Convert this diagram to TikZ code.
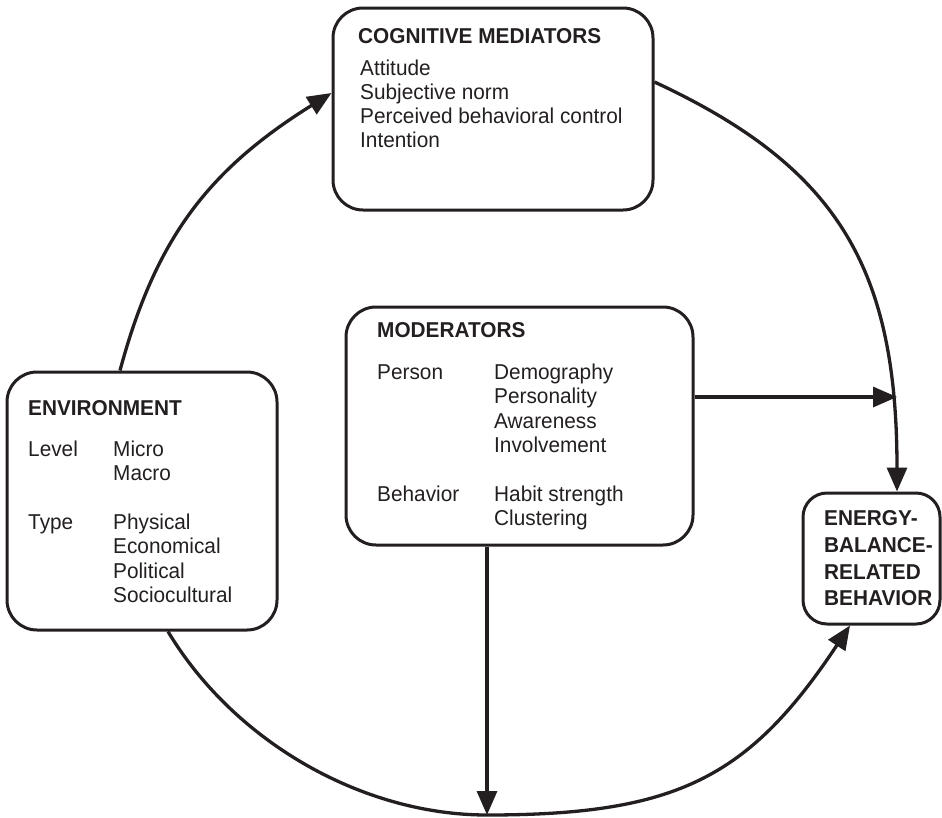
\documentclass[tikz,border=0pt]{standalone}
\usepackage{fontspec}
\setmainfont{Liberation Sans}[FakeStretch=0.967]
\usetikzlibrary{arrows.meta}
\definecolor{ink}{RGB}{35,31,32}
\newcommand{\fs}{\fontsize{21.5}{24.5}\selectfont}
\begin{document}
\begin{tikzpicture}[x=1pt,y=-1pt,
  box/.style={draw=ink, line width=3pt, rounded corners=30pt, rectangle, inner sep=0pt},
  txt/.style={anchor=base west, inner sep=0pt, text=ink, font=\fs},
  hd/.style={txt, font=\fs\bfseries},
  arr/.style={draw=ink, line width=3.3pt, -{Triangle[length=24pt,width=20pt]}}]
\useasboundingbox (0,0) rectangle (942,817);

% boxes
\node[box, minimum width=320pt, minimum height=202pt] (cog) at (493,109) {};
\node[box, minimum width=347pt, minimum height=238pt] (mod) at (519.5,426) {};
\node[box, minimum width=270pt, minimum height=258pt] (env) at (142,501) {};
\node[box, rounded corners=24pt, minimum width=137pt, minimum height=131pt] (ebr) at (871.5,558.5) {};

% cognitive mediators
\node[hd]  (cogT) at (358,43.5) {COGNITIVE MEDIATORS};
\node[txt] (cog1) at (360,75) {Attitude};
\node[txt] (cog2) at (360,99) {Subjective norm};
\node[txt] (cog3) at (360,123) {Perceived behavioral control};
\node[txt] (cog4) at (360,147) {Intention};

% moderators
\node[hd]  (modT) at (377,337) {MODERATORS};
\node[txt] (modP) at (377,379) {Person};
\node[txt] (mod1) at (494,379) {Demography};
\node[txt] (mod2) at (494,403.5) {Personality};
\node[txt] (mod3) at (494,428) {Awareness};
\node[txt] (mod4) at (494,452.5) {Involvement};
\node[txt] (modB) at (377,501) {Behavior};
\node[txt] (mod5) at (494,501) {Habit strength};
\node[txt] (mod6) at (494,525.5) {Clustering};

% environment
\node[hd]  (envT) at (28,415) {ENVIRONMENT};
\node[txt] (envL) at (28,456) {Level};
\node[txt] (env1) at (113,456) {Micro};
\node[txt] (env2) at (113,480.5) {Macro};
\node[txt] (envY) at (28,529) {Type};
\node[txt] (env3) at (113,529) {Physical};
\node[txt] (env4) at (113,553.5) {Economical};
\node[txt] (env5) at (113,578) {Political};
\node[txt] (env6) at (113,602.5) {Sociocultural};

% energy-balance-related behavior
\node[hd] (ebr1) at (824,525) {ENERGY-};
\node[hd] (ebr2) at (824,552) {BALANCE-};
\node[hd] (ebr3) at (824,579) {RELATED};
\node[hd] (ebr4) at (824,605) {BEHAVIOR};

% coordinates
\coordinate (bot) at (487,815);
\coordinate (hit) at (897,397);

% connectors
\draw[arr] ([xshift=-22pt]env.north) .. controls +(35.6,-132.2) and +(-123.2,76.9) .. ([yshift=16pt]cog.west);
\draw[arr] ([yshift=27pt]cog.east) .. controls +(183,85) and +(0,-224) .. ([xshift=25.5pt]ebr.north);
\draw[arr] (mod.east |- hit) -- (hit);
\draw[arr] (bot |- mod.south) -- (bot);
\draw[arr] ([xshift=26pt]env.south) .. controls +(66,110) and +(-125,0) .. (bot)
  .. controls +(190,0) and +(-101,152) .. ([xshift=-21.5pt]ebr.south);
\end{tikzpicture}
\end{document}
